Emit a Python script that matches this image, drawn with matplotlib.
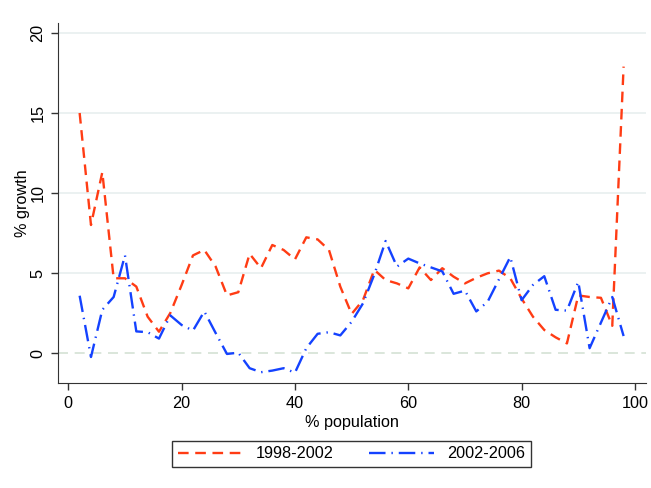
import matplotlib
matplotlib.use("Agg")
import matplotlib.pyplot as plt
import numpy as np

plt.rcParams['font.family'] = ['Liberation Sans', 'DejaVu Sans']

population = list(range(2, 100, 2))
growth_1998_2002 = [15.0, 8.0, 11.3, 4.67, 4.67, 4.15, 2.27, 1.33, 2.5, 4.25,
                     6.1, 6.44, 5.4, 3.6, 3.8, 6.2, 5.3, 6.75, 6.44, 5.85,
                     7.23, 7.1, 6.44, 4.15, 2.44, 3.3, 5.2, 4.56, 4.35, 4.04,
                     5.35, 4.56, 5.3, 4.77, 4.35, 4.7, 4.98, 5.15, 4.67, 3.4,
                     2.27, 1.44, 0.98, 0.6, 3.6, 3.5, 3.45, 1.7, 17.9]
growth_2002_2006 = [3.58, -0.25, 2.7, 3.5, 6.1, 1.35, 1.3, 0.9, 2.35, 1.75,
                    1.4, 2.6, 1.25, -0.06, 0.02, -0.95, -1.2, -1.1, -0.95, -1.23,
                    0.3, 1.2, 1.3, 1.1, 1.95, 3.1, 4.9, 7.0, 5.4, 5.9,
                    5.6, 5.35, 5.1, 3.7, 3.9, 2.6, 3.2, 4.6, 6.0, 3.3,
                    4.25, 4.8, 2.7, 2.65, 4.45, 0.3, 1.9, 3.5, 1.06]
series_labels = ['1998-2002', '2002-2006']
x_ticks = [0, 20, 40, 60, 80, 100]
y_ticks = [0, 5, 10, 15, 20]

fig = plt.figure(figsize=(6.51, 4.88), dpi=100)
ax = fig.add_axes([58/651, 1-383/488, (645.7-58)/651, (383-23)/488])

fs = 11.7
red = '#ff3c14'
blue = '#1442ff'

for yv in y_ticks[1:]:
    ax.axhline(yv, color='#e8efef', lw=1.2, zorder=0)
ax.axhline(0, color='#d4e2d4', lw=1.2, ls=(0, (6, 4)), zorder=0)

ax.plot(population, growth_1998_2002, color=red, lw=1.7, ls=(0, (4.5, 2.8)),
        label=series_labels[0])
ax.plot(population, growth_2002_2006, color=blue, lw=1.7,
        ls=(0, (7, 2.5, 0.6, 2.5)), label=series_labels[1])

ax.set_xlim(-1.82, 101.9)
ax.set_ylim(-1.875, 20.625)
ax.set_xticks(x_ticks)
ax.set_yticks(y_ticks)
ax.tick_params(axis='both', direction='out', length=5, width=1, color='#333333',
               labelsize=fs, pad=4)
ax.tick_params(axis='y', labelrotation=90)
for lab in ax.get_yticklabels():
    lab.set_va('center')
ax.spines['top'].set_visible(False)
ax.spines['right'].set_visible(False)
ax.spines['left'].set_color('#333333')
ax.spines['bottom'].set_color('#333333')
ax.set_xlabel('% population', fontsize=fs, labelpad=3)
ax.set_ylabel('% growth', fontsize=fs, labelpad=0)

leg = fig.legend(loc='center', bbox_to_anchor=((173+530)/2/651, 1-(438+470)/2/488),
                 ncol=2, fontsize=fs, frameon=True, fancybox=False,
                 edgecolor='black', handlelength=4.0, columnspacing=2.2,
                 borderpad=0.35, handletextpad=0.8)
leg.get_frame().set_linewidth(1.0)

fig.savefig('out.png', dpi=100)
